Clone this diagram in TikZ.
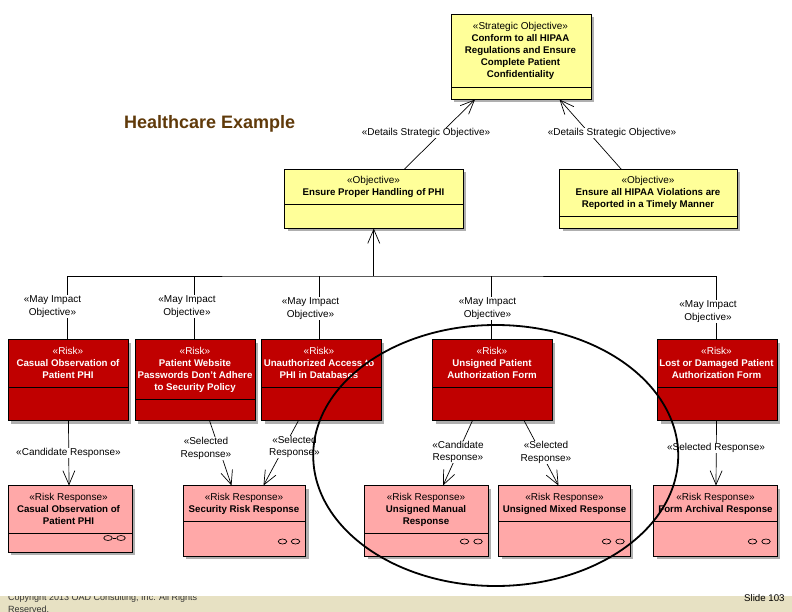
\documentclass[tikz,border=0pt]{standalone}
\usepackage{fontspec}
\setmainfont{Liberation Sans}
\usetikzlibrary{arrows.meta,shapes.geometric}
\definecolor{yel}{RGB}{255,255,153}
\definecolor{rd}{RGB}{192,0,0}
\definecolor{pk}{RGB}{255,168,168}
\definecolor{shad}{RGB}{175,175,175}
\definecolor{band}{RGB}{231,225,195}
\definecolor{ttl}{RGB}{96,58,10}
\newcommand{\stt}{\fontsize{10}{12.5}\selectfont}
\newcommand{\bxb}{\fontsize{9.7}{12.5}\selectfont\bfseries}
\tikzset{
 x=1pt,y=-1pt,
 boxbase/.style={draw=black,line width=0.8pt,anchor=north west,inner sep=0pt,outer sep=0pt},
 yelbox/.style={boxbase,fill=yel},
 redbox/.style={boxbase,fill=rd},
 pkbox/.style={boxbase,fill=pk},
 div/.style={line width=0.8pt,black},
 link/.style={line width=0.7pt,black},
 dep/.style={link,-{Straight Barb[length=14pt,width=12pt,line width=0.7pt]}},
 lab/.style={fill=white,inner sep=0.3pt,align=center,text=black,font=\fontsize{10}{12.5}\selectfont},
 oval/.style={ellipse,draw=black,line width=0.7pt,minimum width=8.5pt,minimum height=5pt,inner sep=0pt},
 ttxt/.style={anchor=north,align=center,inner sep=0pt},
}
\begin{document}
\begin{tikzpicture}
\useasboundingbox (0,0) rectangle (792,612);
\fill[white] (0,0) rectangle (792,612);
\fill[band] (0,596) rectangle (792,612);
\node[anchor=west,inner sep=0pt,font=\fontsize{18}{20}\selectfont\bfseries,text=ttl] (title) at (124,124) {Healthcare Example};
\node[anchor=north west,inner sep=0pt,align=left,font=\fontsize{9}{12}\selectfont,text=black!80] (copy) at (8,593.5) {Copyright 2013 OAD Consulting, Inc. All Rights\\Reserved.};
\fill[white] (0,585) rectangle (300,595.5);
\node[anchor=west,inner sep=0pt,font=\fontsize{9.7}{11}\selectfont] (slide) at (744,598) {Slide 103};

% shadows
\foreach \a/\b/\c/\d in {451/14/591/99.5,284.5/169.5/463/228.5,559.5/169.5/737/228.5,
 8/339.5/128/420.5,135/339.5/255/420.5,261.5/339.5/381/420.5,432.5/339.5/552/420.5,657.5/339.5/777/420.5,
 8/485.5/132/552,183/485.5/305.5/556,364.5/485.5/488/556,498.5/485.5/630/556,653.5/485.5/777/556}
 {\fill[shad] (\a+3,\b+3) rectangle (\c+3,\d+3);}

\node[yelbox,minimum width=140pt,minimum height=85.5pt] (so) at (451,14) {};
\node[yelbox,minimum width=178.5pt,minimum height=59pt] (o1) at (284.5,169.5) {};
\node[yelbox,minimum width=177.5pt,minimum height=59pt] (o2) at (559.5,169.5) {};
\node[redbox,minimum width=120pt,minimum height=81pt] (r1) at (8,339.5) {};
\node[redbox,minimum width=120pt,minimum height=81pt] (r2) at (135,339.5) {};
\node[redbox,minimum width=119.5pt,minimum height=81pt] (r3) at (261.5,339.5) {};
\node[redbox,minimum width=119.5pt,minimum height=81pt] (r4) at (432.5,339.5) {};
\node[redbox,minimum width=119.5pt,minimum height=81pt] (r5) at (657.5,339.5) {};
\node[pkbox,minimum width=124pt,minimum height=66.5pt] (p1) at (8,485.5) {};
\node[pkbox,minimum width=122.5pt,minimum height=70.5pt] (p2) at (183,485.5) {};
\node[pkbox,minimum width=123.5pt,minimum height=70.5pt] (p3) at (364.5,485.5) {};
\node[pkbox,minimum width=131.5pt,minimum height=70.5pt] (p4) at (498.5,485.5) {};
\node[pkbox,minimum width=123.5pt,minimum height=70.5pt] (p5) at (653.5,485.5) {};

% compartment dividers
\draw[div] (so.west |- 0,87.5) -- (so.east |- 0,87.5);
\draw[div] (o1.west |- 0,204.5) -- (o1.east |- 0,204.5);
\draw[div] (o2.west |- 0,216.5) -- (o2.east |- 0,216.5);
\draw[div] (r1.west |- 0,387.5) -- (r1.east |- 0,387.5);
\draw[div] (r2.west |- 0,399.5) -- (r2.east |- 0,399.5);
\draw[div] (r3.west |- 0,387.5) -- (r3.east |- 0,387.5);
\draw[div] (r4.west |- 0,387.5) -- (r4.east |- 0,387.5);
\draw[div] (r5.west |- 0,387.5) -- (r5.east |- 0,387.5);
\draw[div] (p1.west |- 0,533.5) -- (p1.east |- 0,533.5);
\draw[div] (p2.west |- 0,521.5) -- (p2.east |- 0,521.5);
\draw[div] (p3.west |- 0,533.5) -- (p3.east |- 0,533.5);
\draw[div] (p4.west |- 0,521.5) -- (p4.east |- 0,521.5);
\draw[div] (p5.west |- 0,521.5) -- (p5.east |- 0,521.5);

% box texts
\node[ttxt] (tso) at (520.5,22.5) {\stt «Strategic Objective»\\\bxb Conform to all HIPAA\\\bxb Regulations and Ensure\\\bxb Complete Patient\\\bxb Confidentiality};
\node[ttxt] (to1) at (373.5,176.5) {\stt «Objective»\\\bxb Ensure Proper Handling of PHI};
\node[ttxt] (to2) at (648,176.5) {\stt «Objective»\\\bxb Ensure all HIPAA Violations are\\\bxb Reported in a Timely Manner};
\node[ttxt,text=white] (tr1) at (68,347.5) {\stt «Risk»\\\bxb Casual Observation of\\\bxb Patient PHI};
\node[ttxt,text=white] (tr2) at (195,347.5) {\stt «Risk»\\\bxb Patient Website\\\bxb Passwords Don't Adhere\\\bxb to Security Policy};
\node[ttxt,text=white] (tr3) at (319,347.5) {\stt «Risk»\\\bxb Unauthorized Access to\\\bxb PHI in Databases};
\node[ttxt,text=white] (tr4) at (492,347.5) {\stt «Risk»\\\bxb Unsigned Patient\\\bxb Authorization Form};
\node[ttxt,text=white] (tr5) at (716.5,347.5) {\stt «Risk»\\\bxb Lost or Damaged Patient\\\bxb Authorization Form};
\node[ttxt] (tp1) at (68.5,493.5) {\stt «Risk Response»\\\bxb Casual Observation of\\\bxb Patient PHI};
\node[ttxt] (tp2) at (244,493.5) {\stt «Risk Response»\\\bxb Security Risk Response};
\node[ttxt] (tp3) at (426,493.5) {\stt «Risk Response»\\\bxb Unsigned Manual\\\bxb Response};
\node[ttxt] (tp4) at (564.5,493.5) {\stt «Risk Response»\\\bxb Unsigned Mixed Response};
\node[ttxt] (tp5) at (715.5,493.5) {\stt «Risk Response»\\\bxb Form Archival Response};

% icons
\node[oval] (i1a) at (108,538) {}; \node[oval] (i1b) at (121,538) {};
\draw[link] (i1a) -- (i1b);
\node[oval] (i2a) at (282.5,541.5) {}; \node[oval] (i2b) at (295.5,541.5) {};
\node[oval] (i3a) at (464.5,541.5) {}; \node[oval] (i3b) at (478,541.5) {};
\node[oval] (i4a) at (606.5,541.5) {}; \node[oval] (i4b) at (620,541.5) {};
\node[oval] (i5a) at (752.5,541.5) {}; \node[oval] (i5b) at (766,541.5) {};

% connectors
\coordinate (bus) at (373.75,276);
\draw[dep] (bus) -- (o1.south);
\draw[link] ([xshift=-1pt]r1.north) |- (bus) -| ([xshift=-.75pt]r5.north);
\draw[link] ([xshift=-.5pt]r2.north) -- ([xshift=-.5pt]r2.north |- bus);
\draw[link] ([xshift=-1.75pt]r3.north) -- ([xshift=-1.75pt]r3.north |- bus);
\draw[link] ([xshift=-.75pt]r4.north) -- ([xshift=-.75pt]r4.north |- bus);
\draw[dep] ([xshift=30.25pt]o1.north) -- ([xshift=-46pt]so.south);
\draw[dep] ([xshift=-26.75pt]o2.north) -- ([xshift=38.5pt]so.south);
\draw[dep] ([xshift=.5pt]r1.south) -- ([xshift=-1pt]p1.north);
\draw[dep] ([xshift=14.5pt]r2.south) -- ([xshift=-12.75pt]p2.north);
\draw[dep] ([xshift=-22.75pt]r3.south) -- ([xshift=19.25pt]p2.north);
\draw[dep] ([xshift=-19.75pt]r4.south) -- ([xshift=16.75pt]p3.north);
\draw[dep] ([xshift=31.75pt]r4.south) -- ([xshift=-5.75pt]p4.north);
\draw[dep] ([xshift=-.75pt]r5.south) -- ([xshift=.75pt]p5.north);

% connector labels
\node[lab] (l1) at (426,133) {«Details Strategic Objective»};
\node[lab] (l2) at (612,133) {«Details Strategic Objective»};
\node[lab] (m1) at (52.5,306.5) {«May Impact\\Objective»};
\node[lab] (m2) at (187,306.5) {«May Impact\\Objective»};
\node[lab] (m3) at (310.5,308.5) {«May Impact\\Objective»};
\node[lab] (m4) at (487.5,308.5) {«May Impact\\Objective»};
\node[lab] (m5) at (708,311.5) {«May Impact\\Objective»};
\node[lab] (c1) at (68.5,453) {«Candidate Response»};
\node[lab] (c2) at (206,448.5) {«Selected\\Response»};
\node[lab] (c3) at (294.5,447) {«Selected\\Response»};
\node[lab] (c4) at (458,452) {«Candidate\\Response»};
\node[lab] (c5) at (546,452.5) {«Selected\\Response»};
\node[lab] (c6) at (716,448) {«Selected Response»};

% highlight
\node[ellipse,draw=black,line width=1.8pt,minimum width=365pt,minimum height=261pt,inner sep=0pt] (ring) at (495.7,455.5) {};
\end{tikzpicture}
\end{document}
